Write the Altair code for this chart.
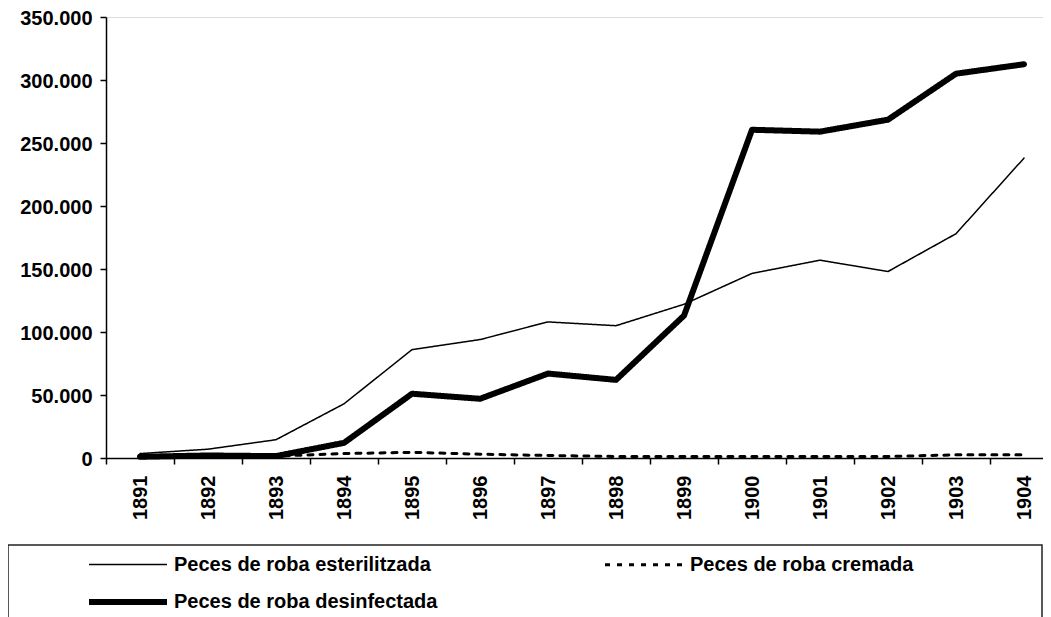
import altair as alt
import pandas as pd

years = [1891, 1892, 1893, 1894, 1895, 1896, 1897, 1898, 1899, 1900, 1901, 1902, 1903, 1904]
esterilitzada = [3500, 7000, 14500, 43000, 86000, 94000, 108000, 105000, 122000, 146500, 157000, 148000, 178000, 238000]
cremada = [500, 1000, 1500, 3500, 4500, 3000, 2000, 1200, 1200, 1200, 1200, 1200, 2500, 2500]
desinfectada = [1000, 2000, 1500, 12000, 51000, 47000, 67000, 62000, 113000, 260500, 259000, 268500, 305000, 312500]
series_names = ["Peces de roba esterilitzada", "Peces de roba cremada", "Peces de roba desinfectada"]
y_ticks = [0, 50000, 100000, 150000, 200000, 250000, 300000, 350000]

rows = []
for name, vals in zip(series_names, [esterilitzada, cremada, desinfectada]):
    for yr, v in zip(years, vals):
        rows.append({"year": yr, "value": v, "series": name})
df = pd.DataFrame(rows)

FONT = "Liberation Sans"
FS = 20
W = 937
STEP = 68.0
x_domain = [years[0] - 0.5, years[0] - 0.5 + W / STEP]

legend = alt.Legend(
    title=None, orient="none", legendX=-20, legendY=536, columns=2, direction="horizontal",
    symbolType="M-3.9,0H3.9", symbolSize=400, symbolStrokeColor="black",
    symbolOffset=29, labelOffset=33,
    labelFont=FONT, labelFontSize=FS, labelFontWeight="bold", labelColor="black",
    columnPadding=161, rowPadding=14, labelLimit=600,
)

lines = alt.Chart(df).mark_line(color="black", strokeCap="round", strokeJoin="round").encode(
    x=alt.X("year:Q", title=None,
            scale=alt.Scale(domain=x_domain, nice=False, zero=False),
            axis=alt.Axis(values=years, format="d", tickOffset=-STEP / 2, labelOffset=STEP / 2,
                          labelAngle=-90, tickSize=6, labelPadding=11,
                          labelFont=FONT, labelFontSize=FS, labelFontWeight="bold",
                          labelColor="black", domainColor="black", tickColor="black",
                          domainWidth=1.5, tickWidth=1.5, grid=False, labelFlush=False,
                          labelOverlap=False)),
    y=alt.Y("value:Q", title=None,
            scale=alt.Scale(domain=[0, 350000], nice=False, zero=True),
            axis=alt.Axis(values=y_ticks, tickSize=6, labelPadding=8, labelOffset=1,
                          labelExpr="replace(format(datum.value, ','), ',', '.')",
                          labelFont=FONT, labelFontSize=FS, labelFontWeight="bold",
                          labelColor="black", domainColor="black", tickColor="black",
                          domainWidth=1.5, tickWidth=1.5, grid=False)),
    strokeDash=alt.StrokeDash("series:N", sort=series_names,
                              scale=alt.Scale(type="ordinal", domain=series_names,
                                              range=[[1, 0], [5, 7], [1, 0]]),
                              legend=legend),
    strokeWidth=alt.StrokeWidth("series:N", sort=series_names,
                                scale=alt.Scale(type="ordinal", domain=series_names,
                                                range=[1.5, 3, 6]),
                                legend=legend),
    order=alt.Order("year:Q"),
)

box = alt.Chart(pd.DataFrame({"k": [0]})).mark_rect(
    fill="white", fillOpacity=0, stroke="#222222", strokeWidth=1.5
).encode(
    x=alt.value(-98), x2=alt.value(936), y=alt.value(528), y2=alt.value(620)
)

chart = alt.layer(box, lines).properties(
    width=W, height=441,
    autosize=alt.AutoSizeParams(type="none"),
    padding={"left": 98, "top": 9, "right": 0, "bottom": 170},
).configure_view(stroke=None).configure(background="white")

chart.save("out.html", embed_options={"renderer": "svg", "actions": False})
